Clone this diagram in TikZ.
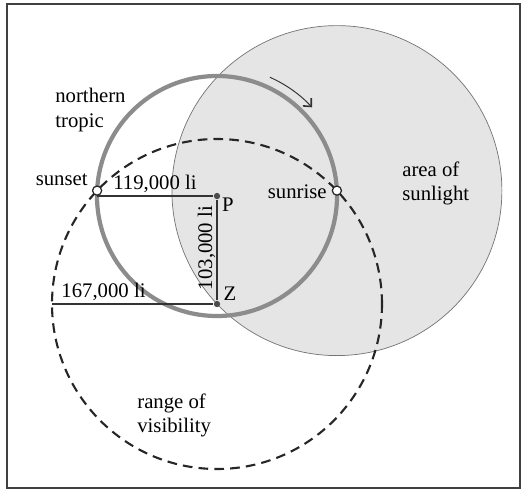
\documentclass[tikz,border=0pt]{standalone}
\usepackage{fontspec}
\setmainfont{Liberation Serif}
\usetikzlibrary{arrows.meta}

\begin{document}
\begin{tikzpicture}[every node/.style={inner sep=0pt,font=\fontsize{11.8}{13.7}\selectfont},
  spot/.style={circle,draw=black!85,fill=white,line width=0.7pt,minimum size=5.2pt},
  dot/.style={circle,fill=black!70,minimum size=3.6pt}]
  \useasboundingbox (0,0) rectangle (10.5,9.8);
  \draw[line width=1pt,black!75] (0.14,0.04) rectangle (10.4,9.72);
  % area of sunlight
  \fill[black!10] (6.738,5.988) circle (3.3);
  \draw[black!55,line width=0.4pt] (6.738,5.988) circle (3.3);
  % tropic and range of visibility
  \draw[black!45,line width=2.4pt] (4.34,5.88) circle (2.4);
  \draw[black!85,line width=1.2pt,dash pattern=on 5.5pt off 3.5pt] (4.34,3.72) circle (3.3);
  \draw[black!80,line width=0.55pt,-{Straight Barb[length=3.5pt,width=6.5pt,line width=0.9pt]}]
    (4.34,5.88) ++(66:2.6) arc[start angle=66,end angle=43,radius=2.6];
  \node[dot] (P) at (4.34,5.88) {};
  \node[dot] (Z) at (4.34,3.72) {};
  \node[spot] (sunset) at (1.942,5.988) {};
  \node[spot] (sunrise) at (6.738,5.988) {};
  \coordinate (w) at (1.94,5.88);
  \coordinate (zw) at (1.04,3.72);
  \draw[black!80,line width=0.7pt] (w)--(P) (P)--(Z) (zw)--(Z);
  \node (tropic) at (1.1,7.6) [anchor=west,align=left] {northern\\tropic};
  \node (setlbl) at (1.76,6.2) [anchor=east] {sunset};
  \node (riselbl) at (6.54,5.97) [anchor=east] {sunrise};
  \node (d1) at (3.1,6.12) {119,000 li};
  \node (d2) at (4.13,4.84) [rotate=90] {103,000 li};
  \node (d3) at (2.07,3.96) {167,000 li};
  \node (plbl) at (4.56,5.7) {P};
  \node (zlbl) at (4.6,3.92) {Z};
  \node (sun) at (8.04,6.14) [anchor=west,align=left] {area of\\sunlight};
  \node (range) at (2.74,1.5) [anchor=west,align=left] {range of\\visibility};
\end{tikzpicture}
\end{document}
